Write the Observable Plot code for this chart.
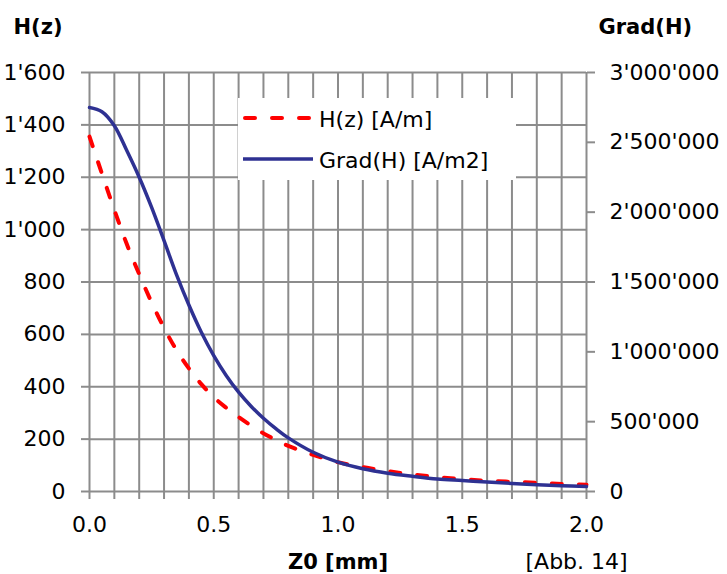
<!DOCTYPE html>
<html>
<head>
<meta charset="utf-8">
<script src="https://cdn.jsdelivr.net/npm/d3@7"></script>
<script src="https://cdn.jsdelivr.net/npm/@observablehq/plot@0.6"></script>
<style>
  html, body { margin: 0; padding: 0; background: white; }
  #wrap { position: relative; width: 727px; height: 574px; font-family: "DejaVu Sans", sans-serif; }
  #legend { position: absolute; left: 238px; top: 98px; width: 278px; height: 82px; background: white; }
</style>
</head>
<body>
<div id="wrap"><div id="chart"></div><div id="legend"></div></div>
<script>
// Z0 positions [mm]
const z = [0, 0.05, 0.1, 0.15, 0.2, 0.25, 0.3, 0.35, 0.4, 0.45, 0.5, 0.55, 0.6, 0.65, 0.7, 0.75,
           0.8, 0.9, 1.0, 1.1, 1.2, 1.3, 1.4, 1.5, 1.6, 1.7, 1.8, 1.9, 2.0];
// H(z) [A/m]  (left axis)
const H = [1355, 1214, 1075, 945, 830, 722, 625, 540, 470, 410, 360, 320, 284, 252, 222, 197,
           174, 140, 112, 93, 78, 65, 55, 47, 41, 37, 33, 29, 26];
// Grad(H) [A/m2]  (right axis)
const G = [2749000, 2719000, 2619000, 2441000, 2250000, 2034000, 1796000, 1553000, 1335000,
           1140000, 973000, 831000, 711000, 611000, 525000, 450000,
           384000, 281000, 210000, 163000, 131000, 109000, 90000, 79000, 68000, 58000, 49000, 41000, 36000];

// Axis ticks
const leftTicks = [0, 200, 400, 600, 800, 1000, 1200, 1400, 1600];
const rightTicks = [0, 500000, 1000000, 1500000, 2000000, 2500000, 3000000];
const xMinor = [0, 0.1, 0.2, 0.3, 0.4, 0.5, 0.6, 0.7, 0.8, 0.9, 1, 1.1, 1.2, 1.3, 1.4, 1.5, 1.6, 1.7, 1.8, 1.9, 2];
const xTickLabels = [0, 0.5, 1, 1.5, 2];

// Labels
const seriesNames = ["H(z) [A/m]", "Grad(H) [A/m2]"];
const leftTitle = "H(z)";
const rightTitle = "Grad(H)";
const xTitle = "Z0 [mm]";
const caption = "[Abb. 14]";

const H_MAX = 1600, G_MAX = 3000000;
const k = H_MAX / G_MAX;

const RED = "#ff0000", BLUE = "#2e3192", GRID = "#8c8c8c";
const fmt = d3.formatLocale({decimal: ".", thousands: "'", grouping: [3], currency: ["", ""]}).format(",");

const rows = z.map((v, i) => ({z: v, H: H[i], G: G[i]}));

const chart = Plot.plot({
  width: 727,
  height: 574,
  marginLeft: 89,
  marginRight: 141,
  marginTop: 72,
  marginBottom: 83,
  style: {fontFamily: "DejaVu Sans, sans-serif", fontSize: "22px", background: "white", overflow: "visible", color: "black"},
  x: {domain: [0, 2]},
  y: {domain: [0, H_MAX]},
  marks: [
    Plot.gridY(leftTicks, {stroke: GRID, strokeOpacity: 1, strokeWidth: 2}),
    Plot.gridX(xMinor, {stroke: GRID, strokeOpacity: 1, strokeWidth: 2}),
    Plot.axisY(leftTicks, {anchor: "left", tickSize: 8, tickPadding: 16, tickFormat: fmt,
      stroke: GRID, strokeWidth: 2, fill: "black", fontSize: 22, label: null}),
    Plot.axisY(rightTicks.map(v => v * k), {anchor: "right", tickSize: 8, tickPadding: 15,
      tickFormat: v => fmt(Math.round(v / k)), stroke: GRID, strokeWidth: 2, fill: "black", fontSize: 22, label: null}),
    Plot.axisX(xMinor, {anchor: "bottom", tickSize: 8, tickPadding: 17,
      tickFormat: d => xTickLabels.includes(d) ? d.toFixed(1) : "",
      stroke: GRID, strokeWidth: 2, fill: "black", fontSize: 22, label: null}),
    Plot.line(rows, {x: "z", y: "H", stroke: RED, strokeWidth: 4, strokeDasharray: "10,17",
      strokeLinecap: "round", curve: "catmull-rom"}),
    Plot.line(rows, {x: "z", y: d => d.G * k, stroke: BLUE, strokeWidth: 3.5, curve: "catmull-rom"}),
    Plot.text([leftTitle], {frameAnchor: "top-left", dx: -76, dy: -39, textAnchor: "start",
      lineAnchor: "bottom", fontWeight: "bold", fontSize: 21, fill: "black"}),
    Plot.text([rightTitle], {frameAnchor: "top-right", dx: 12, dy: -39, textAnchor: "start",
      lineAnchor: "bottom", fontWeight: "bold", fontSize: 21, fill: "black"}),
    Plot.text([xTitle], {frameAnchor: "bottom", dy: 77, textAnchor: "middle",
      lineAnchor: "bottom", fontWeight: "bold", fontSize: 21, fill: "black"}),
    Plot.text([caption], {frameAnchor: "bottom-right", dx: -61, dy: 77, textAnchor: "start",
      lineAnchor: "bottom", fontSize: 22, fill: "black"})
  ]
});
document.getElementById("chart").appendChild(chart);

// Legend (overlay box, occluding the grid like the original)
const lg = d3.select("#legend").append("svg").attr("width", 278).attr("height", 82)
  .style("font-family", "DejaVu Sans, sans-serif").style("font-size", "22px");
const entries = [
  {name: seriesNames[0], color: RED, dash: "10,17", w: 4, y: 20},
  {name: seriesNames[1], color: BLUE, dash: null, w: 3.5, y: 61}
];
entries.forEach(e => {
  lg.append("line").attr("x1", e.dash ? 7 : 5).attr("x2", 75).attr("y1", e.y).attr("y2", e.y)
    .attr("stroke", e.color).attr("stroke-width", e.w)
    .attr("stroke-dasharray", e.dash).attr("stroke-linecap", e.dash ? "round" : "butt");
  lg.append("text").attr("x", 81).attr("y", e.y + 9).attr("fill", "black").text(e.name);
});
</script>
</body>
</html>
